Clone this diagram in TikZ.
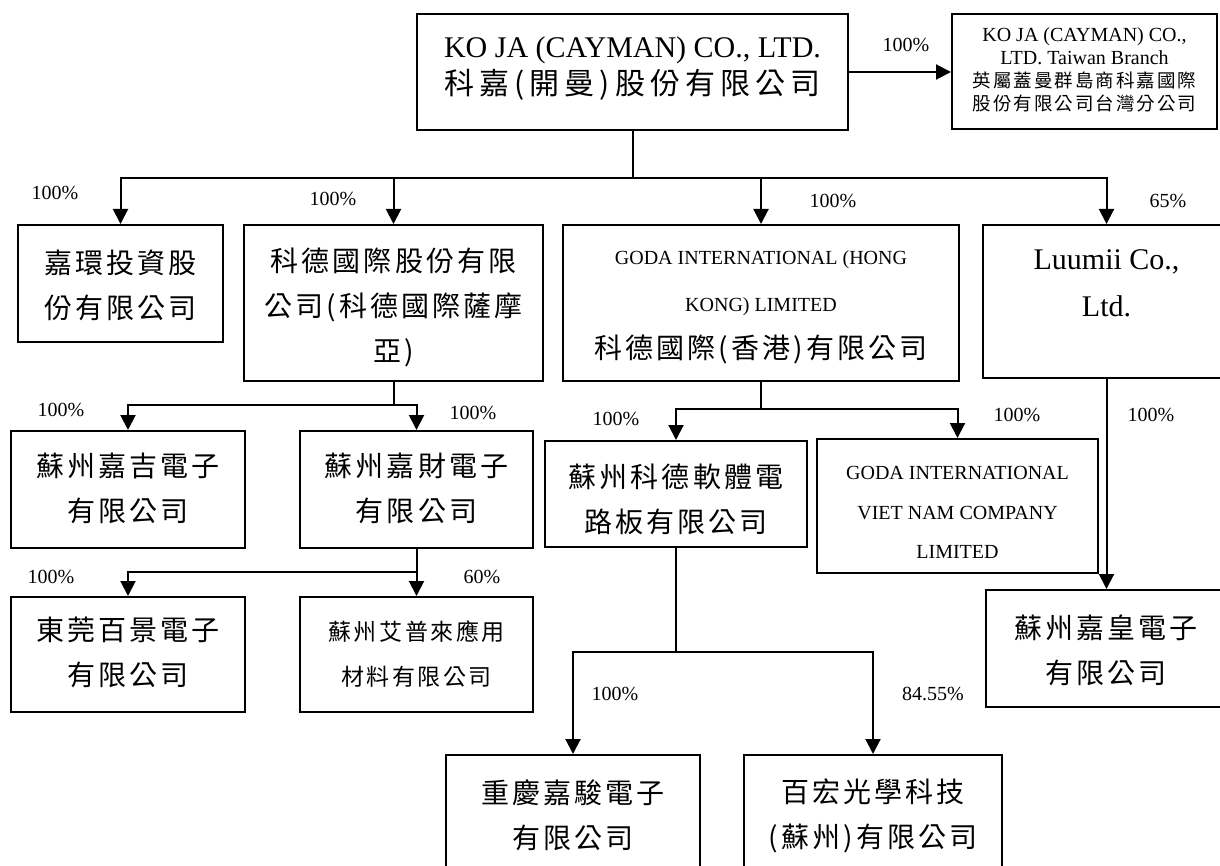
\documentclass[tikz,border=0pt]{standalone}
\usepackage{fontspec}
\setmainfont{Liberation Serif}
\newfontfamily\cjk[LetterSpace=11]{Noto Sans CJK TC}
\newfontfamily\cjkw[LetterSpace=17]{Noto Sans CJK TC}
\newfontfamily\cjkt[LetterSpace=11]{Noto Sans CJK TC}
\usetikzlibrary{arrows.meta,fit}
\tikzset{
  box/.style={draw, line width=2pt, inner sep=0pt},
  txt/.style={align=center, inner sep=0pt},
  arr/.style={line width=2pt, -{Triangle[length=15pt,width=15pt]}},
  pct/.style={font=\fontsize{20}{24}\selectfont, inner sep=0pt},
  zh/.style={font=\cjk\fontsize{28}{45}\selectfont},
  zhs/.style={font=\cjk\fontsize{23}{45}\selectfont},
}
\begin{document}
\begin{tikzpicture}[x=1pt,y=-1pt]
\useasboundingbox (0,0) rectangle (1220,866);
\fill[white] (0,0) rectangle (1220,866);
\clip (0,0) rectangle (1220,866);

% boxes
\node[box, fit={(417,14) (848,130)}] (top) {};
\node[box, fit={(952,14) (1217,129)}] (tw) {};
\node[box, fit={(18,225) (223,342)}] (jh) {};
\node[box, fit={(244,225) (543,381)}] (kd) {};
\node[box, fit={(563,225) (959,381)}] (goda) {};
\node[box, fit={(983,225) (1230,378)}] (lu) {};
\node[box, fit={(11,431) (245,548)}] (jj) {};
\node[box, fit={(300,431) (533,548)}] (jc) {};
\node[box, fit={(545,441) (807,547)}] (rt) {};
\node[box, fit={(817,439) (1098,573)}] (vn) {};
\node[box, fit={(11,597) (245,712)}] (dg) {};
\node[box, fit={(300,597) (533,712)}] (ap) {};
\node[box, fit={(986,590) (1226,707)}] (hw) {};
\node[box, fit={(446,755) (700,876)}] (cq) {};
\node[box, fit={(744,755) (1002,876)}] (bh) {};

% texts
\node[txt, font=\fontsize{30}{37}\selectfont] (top-t) at (632.5,68.5)
  {KO JA (CAYMAN) CO., LTD.\\{\cjkw\fontsize{30}{37}\selectfont 科嘉(開曼)股份有限公司}};
\node[txt, font=\fontsize{20}{23}\selectfont] (tw-t) at (1084.5,70)
  {KO JA (CAYMAN) CO.,\\LTD. Taiwan Branch\\{\cjkt\fontsize{18.5}{23}\selectfont 英屬蓋曼群島商科嘉國際}\\{\cjkt\fontsize{18.5}{23}\selectfont 股份有限公司台灣分公司}};
\node[txt, zh] (jh-t) at (120.5,285) {嘉環投資股\\份有限公司};
\node[txt, zh] (kd-t) at (393.5,307) {科德國際股份有限\\公司(科德國際薩摩\\亞)};
\node[txt, font=\fontsize{20}{47}\selectfont] (goda-t) at (761,307.5)
  {GODA INTERNATIONAL (HONG\\KONG) LIMITED\\{\cjk\fontsize{28}{47}\selectfont 科德國際(香港)有限公司}};
\node[txt, font=\fontsize{30}{47}\selectfont] (lu-t) at (1106.5,283.5) {Luumii Co.,\\Ltd.};
\node[txt, zh] (jj-t) at (128,488.5) {蘇州嘉吉電子\\有限公司};
\node[txt, zh] (jc-t) at (416.5,488.5) {蘇州嘉財電子\\有限公司};
\node[txt, zh] (rt-t) at (676,499.5) {蘇州科德軟體電\\路板有限公司};
\node[txt, font=\fontsize{20}{39.5}\selectfont] (vn-t) at (957.5,512.5)
  {GODA INTERNATIONAL\\VIET NAM COMPANY\\LIMITED};
\node[txt, zh] (dg-t) at (128,652.5) {東莞百景電子\\有限公司};
\node[txt, zhs] (ap-t) at (416.5,654.5) {蘇州艾普來應用\\材料有限公司};
\node[txt, zh] (hw-t) at (1106,650) {蘇州嘉皇電子\\有限公司};
\node[txt, zh] (cq-t) at (573,815.5) {重慶嘉駿電子\\有限公司};
\node[txt, zh] (bh-t) at (873,815.5) {百宏光學科技\\(蘇州)有限公司};

% bus levels
\coordinate (busA) at (0,178);
\coordinate (busB) at (0,405);
\coordinate (busC) at (0,572);
\coordinate (busD) at (0,409);
\coordinate (busE) at (0,652);

% connectors
\draw[arr] (top.east) -- (top.east -| tw.west);
\draw[arr] (top.south) -- (top.south |- busA) -| (jh.north);
\draw[arr] (top.south) -- (top.south |- busA) -| (kd.north);
\draw[arr] (top.south) -- (top.south |- busA) -| (goda.north);
\draw[arr] (top.south) -- (top.south |- busA) -| (lu.north);
\draw[arr] (kd.south) -- (kd.south |- busB) -| (jj.north);
\draw[arr] (kd.south) -- (kd.south |- busB) -| (jc.north);
\draw[arr] (jc.south) -- (jc.south |- busC) -| (dg.north);
\draw[arr] (jc.south) -- (ap.north);
\draw[arr] (goda.south) -- (goda.south |- busD) -| (rt.north);
\draw[arr] (goda.south) -- (goda.south |- busD) -| (vn.north);
\draw[arr] (lu.south) -- (lu.south |- hw.north);
\draw[arr] (rt.south) -- (rt.south |- busE) -| (cq.north);
\draw[arr] (rt.south) -- (rt.south |- busE) -| (bh.north);

% percentages
\node[pct] (p0) at (906,45) {100\%};
\node[pct] (p1) at (55,193) {100\%};
\node[pct] (p2) at (333,199) {100\%};
\node[pct] (p3) at (833,201) {100\%};
\node[pct] (p4) at (1168,201) {65\%};
\node[pct] (p5) at (61,410) {100\%};
\node[pct] (p6) at (473,413) {100\%};
\node[pct] (p7) at (51,577) {100\%};
\node[pct] (p8) at (482,577) {60\%};
\node[pct] (p9) at (616,419) {100\%};
\node[pct] (p10) at (1017,415) {100\%};
\node[pct] (p11) at (1151,415) {100\%};
\node[pct] (p12) at (615,694) {100\%};
\node[pct] (p13) at (933,694) {84.55\%};
\end{tikzpicture}
\end{document}
